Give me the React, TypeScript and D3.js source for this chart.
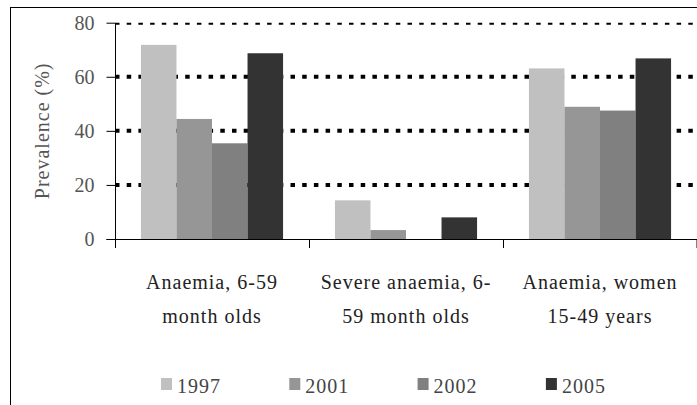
import React, { useEffect, useRef } from 'react';
import * as d3 from 'd3';

// Chart data
const categories = ['cat1', 'cat2', 'cat3'];
const categoryLines = [
    ['Anaemia, 6-59', 'month olds'],
    ['Severe anaemia, 6-', '59 month olds'],
    ['Anaemia, women', '15-49 years'],
];
const years = ['1997', '2001', '2002', '2005'];
const values1997 = [71.8, 14.3, 63.1];
const values2001 = [44.4, 3.3, 48.9];
const values2002 = [35.4, 0, 47.5];
const values2005 = [68.7, 8.0, 66.8];
const yTicks = [0, 20, 40, 60, 80];
const colors = ['#c0c0c0', '#969696', '#808080', '#333333'];

const seriesValues = [values1997, values2001, values2002, values2005];

const FONT = "'Liberation Serif', 'Times New Roman', serif";

const App = () => {
    const svgRef = useRef<SVGSVGElement>(null);

    useEffect(() => {
        const svg = d3.select(svgRef.current);
        svg.selectAll('*').remove();

        const W = 697;
        const H = 405;
        const left = 115;
        const right = 697;
        const top = 22.7;
        const bottom = 239;

        svg.attr('width', W).attr('height', H);

        // outer frame (only top/left are visible in the window)
        svg.append('rect')
            .attr('x', 10.5).attr('y', 7.5)
            .attr('width', 800).attr('height', 600)
            .attr('fill', 'white')
            .attr('stroke', '#000')
            .attr('stroke-width', 1);

        const x0 = d3.scaleBand<string>()
            .domain(categories)
            .range([left, right])
            .paddingInner(0).paddingOuter(0);

        const x1 = d3.scaleBand<string>()
            .domain(years)
            .range([0, x0.bandwidth()])
            .paddingInner(0)
            .paddingOuter(0.73);

        const y = d3.scaleLinear().domain([0, 80]).range([bottom, top]);

        // clip for gridlines
        svg.append('clipPath').attr('id', 'plot-clip')
            .append('rect')
            .attr('x', left).attr('y', top)
            .attr('width', right - left).attr('height', bottom - top);

        // gridlines
        svg.append('g')
            .attr('clip-path', 'url(#plot-clip)')
            .selectAll('line')
            .data(yTicks.filter(d => d > 0))
            .enter().append('line')
            .attr('x1', left).attr('x2', right)
            .attr('y1', d => y(d)).attr('y2', d => y(d))
            .attr('stroke', '#000')
            .attr('stroke-width', 4)
            .attr('stroke-dasharray', '4.5,7.2');

        // bars
        const groups = svg.append('g')
            .selectAll('g')
            .data(categories)
            .enter().append('g')
            .attr('transform', d => `translate(${x0(d)},0)`);

        groups.selectAll('rect')
            .data((d, ci) => years.map((yr, si) => ({ yr, si, v: seriesValues[si][ci] })))
            .enter().append('rect')
            .filter(d => d.v > 0)
            .attr('x', d => x1(d.yr) as number)
            .attr('y', d => y(d.v))
            .attr('width', x1.bandwidth())
            .attr('height', d => bottom - y(d.v))
            .attr('fill', d => colors[d.si]);

        // y axis
        const yAxis = svg.append('g')
            .attr('transform', `translate(${left},0)`)
            .call(d3.axisLeft(y).tickValues(yTicks).tickSize(8.5).tickPadding(12).tickSizeOuter(0));
        yAxis.attr('font-family', null).attr('font-size', null);
        yAxis.select('.domain').attr('stroke', '#000');
        yAxis.selectAll('.tick line').attr('stroke', '#000');
        yAxis.selectAll('.tick text')
            .style('font-family', FONT)
            .style('font-size', '20px')
            .attr('fill', '#555');

        // x axis
        const xAxis = svg.append('g')
            .attr('transform', `translate(0,${bottom})`);
        xAxis.append('line')
            .attr('x1', left - 8.5).attr('x2', right)
            .attr('y1', 0.5).attr('y2', 0.5)
            .attr('stroke', '#000');
        xAxis.selectAll('line.xt')
            .data([...categories.map(c => x0(c) as number), right - 0.5])
            .enter().append('line')
            .attr('class', 'xt')
            .attr('x1', d => d + 0.5).attr('x2', d => d + 0.5)
            .attr('y1', 0).attr('y2', 9)
            .attr('stroke', '#000');

        // category labels
        const labels = svg.append('g')
            .style('font-family', FONT)
            .style('font-size', '20px')
            .attr('letter-spacing', 1)
            .attr('fill', '#222')
            .attr('text-anchor', 'middle');
        categories.forEach((c, i) => {
            const cx = (x0(c) as number) + x0.bandwidth() / 2;
            categoryLines[i].forEach((line, li) => {
                labels.append('text')
                    .attr('x', cx)
                    .attr('y', 289 + li * 34)
                    .text(line);
            });
        });

        // y axis title
        svg.append('text')
            .attr('transform', `translate(49,${(top + bottom) / 2}) rotate(-90)`)
            .attr('text-anchor', 'middle')
            .style('font-family', FONT)
            .style('font-size', '20px')
            .attr('letter-spacing', 1)
            .attr('fill', '#555')
            .text('Prevalence (%)');

        // legend
        const legend = svg.append('g')
            .style('font-family', FONT)
            .style('font-size', '20px')
            .selectAll('g')
            .data(years)
            .enter().append('g')
            .attr('transform', (d, i) => `translate(${161 + i * 128.3},0)`);

        legend.append('rect')
            .attr('x', 0).attr('y', 378)
            .attr('width', 11).attr('height', 12)
            .attr('fill', (d, i) => colors[i]);

        legend.append('text')
            .attr('x', 16)
            .attr('y', 393)
            .attr('letter-spacing', 1)
            .attr('fill', '#444')
            .text(d => d);
    }, []);

    return (
        <svg ref={svgRef} style={{ position: 'absolute', left: 0, top: 0, background: '#fff' }}></svg>
    );
};

export default App;
